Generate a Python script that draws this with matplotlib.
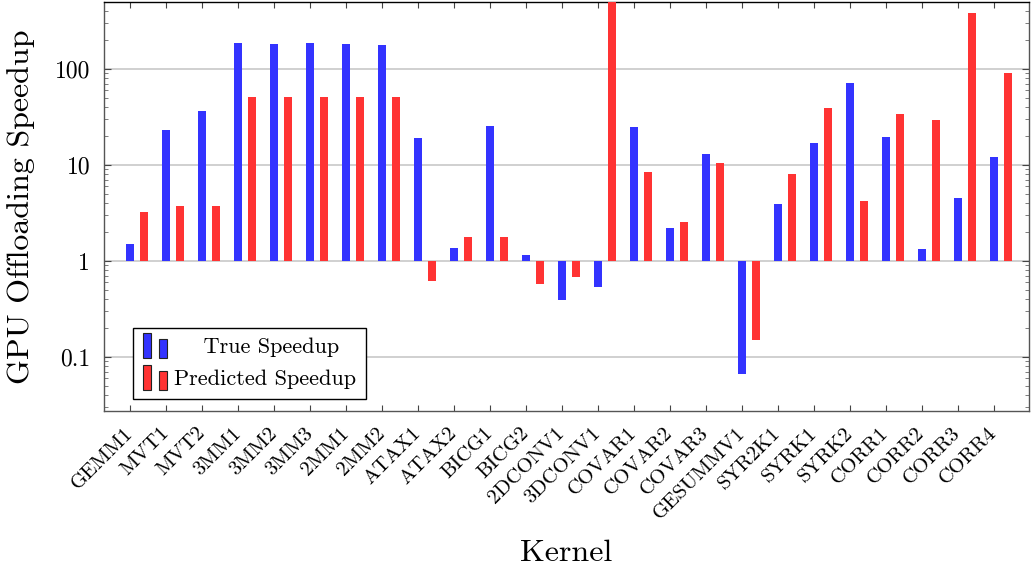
import numpy as np
import matplotlib
matplotlib.use("Agg")
import matplotlib.pyplot as plt
from matplotlib.patches import Rectangle, Patch
from matplotlib.ticker import FixedLocator, FixedFormatter, LogLocator, NullFormatter
from matplotlib.transforms import ScaledTranslation

plt.rcParams['font.family'] = ['cmr10', 'DejaVu Serif']
plt.rcParams['axes.formatter.use_mathtext'] = True

# data
kernels = ["GEMM1", "MVT1", "MVT2", "3MM1", "3MM2", "3MM3", "2MM1", "2MM2",
           "ATAX1", "ATAX2", "BICG1", "BICG2", "2DCONV1", "3DCONV1",
           "COVAR1", "COVAR2", "COVAR3", "GESUMMV1", "SYR2K1", "SYRK1",
           "SYRK2", "CORR1", "CORR2", "CORR3", "CORR4"]
true_speedup = [1.51, 23.2, 36.5, 185, 181, 185, 181, 178,
                19.0, 1.37, 25.5, 1.155, 0.39, 0.54,
                25.0, 2.19, 12.9, 0.066, 3.92, 16.8,
                71.3, 19.5, 1.35, 4.52, 12.0]
pred_speedup = [3.26, 3.77, 3.77, 51, 51, 51, 51, 51,
                0.614, 1.78, 1.78, 0.572, 0.687, 600,
                8.4, 2.57, 10.4, 0.149, 8.0, 39.7,
                4.2, 34.4, 29.3, 385, 91.5]
ytick_vals = [0.1, 1, 10, 100]
ytick_labels = ["0.1", "1", "10", "100"]

blue = "#3333ff"
red = "#ff3333"


class TwoBars:
    # pgfplots-style ybar legend image: two small bars
    def legend_artist(self, legend, orig_handle, fontsize, handlebox):
        x0, y0 = handlebox.xdescent, handlebox.ydescent
        w, h = handlebox.width, handlebox.height
        fc = orig_handle.get_facecolor()
        tr = handlebox.get_transform()
        r1 = Rectangle((x0, y0 - 0.3 * h), w * 0.3, h * 1.6, fc=fc, ec="#222222", lw=0.8, transform=tr)
        r2 = Rectangle((x0 + w * 0.62, y0 - 0.3 * h), w * 0.3, h * 1.2, fc=fc, ec="#222222", lw=0.8, transform=tr)
        handlebox.add_artist(r1)
        handlebox.add_artist(r2)
        return r1


fig = plt.figure(figsize=(10.36, 5.73), dpi=100)
ax = fig.add_axes([0.1004, 0.2827, 0.8928, 0.7138])

x = np.arange(len(kernels))
w = 0.22
ax.bar(x, np.array(true_speedup) - 1, bottom=1, width=w, color=blue, zorder=3)
ax.bar(x + 0.39, np.array(pred_speedup) - 1, bottom=1, width=w, color=red, zorder=3)

ax.set_yscale("log")
ax.set_ylim(0.0274, 500)
ax.set_xlim(-0.72, 24.97)

ax.yaxis.set_major_locator(FixedLocator(ytick_vals))
ax.yaxis.set_major_formatter(FixedFormatter(ytick_labels))
ax.yaxis.set_minor_locator(LogLocator(base=10, subs=np.arange(2, 10)))
ax.yaxis.set_minor_formatter(NullFormatter())
ax.grid(axis="y", which="major", color="#c8c8c8", lw=1.2, zorder=0)

ax.set_xticks(x)
ax.set_xticklabels(kernels, rotation=45, ha="right", va="center", rotation_mode="anchor", fontsize=15)
shift = ScaledTranslation(6 / 100, 0, fig.dpi_scale_trans)
for lab in ax.get_xticklabels():
    lab.set_transform(lab.get_transform() + shift)
ax.tick_params(axis="x", direction="in", top=True, length=4, width=0.8, color="#444444", pad=14)
ax.tick_params(axis="y", which="major", direction="in", right=True, length=5, width=0.8, color="#444444",
               labelsize=17, pad=10)
ax.tick_params(axis="y", which="minor", direction="in", right=True, length=3, width=0.6, color="#666666")
for s in ax.spines.values():
    s.set_color("#555555")
    s.set_linewidth(1.0)
ax.spines["top"].set_color("black")

ax.set_ylabel("GPU Offloading Speedup", fontsize=23, labelpad=14)
ax.set_xlabel("Kernel", fontsize=23, labelpad=12)

h_true = Patch(facecolor=blue)
h_pred = Patch(facecolor=red)
leg = ax.legend([h_true, h_pred], ["    True Speedup", "Predicted Speedup"],
                handler_map={Patch: TwoBars()},
                loc="lower left", bbox_to_anchor=(0.031, 0.029), borderaxespad=0,
                fontsize=16, fancybox=False, framealpha=1, edgecolor="black",
                handlelength=1.2, handletextpad=0.2, labelspacing=0.55, borderpad=0.45)
leg.get_frame().set_linewidth(1.0)

fig.savefig("out.png", dpi=100)
